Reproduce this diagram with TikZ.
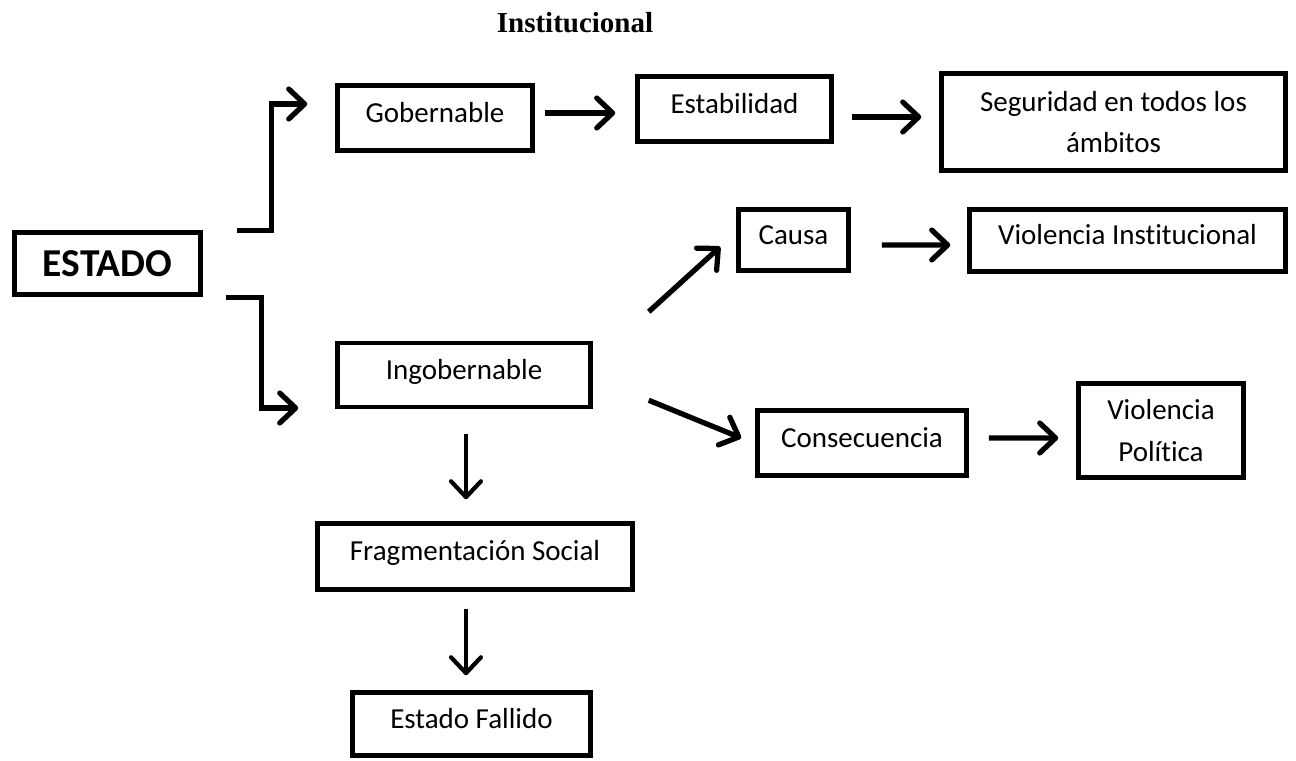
\documentclass[tikz,border=0pt]{standalone}
\usepackage{fontspec}
\setmainfont{Carlito}[Ligatures=NoCommon]
\newfontfamily\titlefont{Liberation Serif}
\usepackage{tikz}
\usetikzlibrary{calc,arrows.meta}

\begin{document}
\begin{tikzpicture}[x=0.02cm, y=-0.02cm,
    box/.style={draw, line width=2.6pt, inner sep=0pt, align=center,
        font=\fontsize{16.5}{23.5}\selectfont},
    onebox/.style={box, text height=11pt, text depth=6pt},
    arrow/.style={line width=3pt, -{Straight Barb[length=9pt,width=17pt,round]}},
    thinarrow/.style={arrow, line width=2.4pt}]
    \useasboundingbox (0,0) rectangle (1296,761);
    \node[font=\titlefont\bfseries\fontsize{16.5}{20}\selectfont, anchor=base] (titulo) at (575,32) {Institucional};
    % left column
    \node[box, minimum width=3.72cm, minimum height=1.24cm, font=\bfseries\fontsize{22.5}{26}\selectfont] (estado) at (107.5,263.5) {ESTADO};
    \node[onebox, minimum width=3.9cm, minimum height=1.3cm] (gob) at (435,118) {Gobernable};
    \node[onebox, minimum width=5.06cm, minimum height=1.28cm] (ingob) at (464,375) {Ingobernable};
    \node[onebox, minimum width=6.3cm, minimum height=1.32cm] (frag) at (475,556.5) {Fragmentación Social};
    \node[onebox, minimum width=4.76cm, minimum height=1.26cm] (fallido) at (471.5,724) {Estado Fallido};
    % right part
    \node[onebox, minimum width=3.88cm, minimum height=1.3cm] (estab) at (734.5,109) {Estabilidad};
    \node[box, minimum width=6.88cm, minimum height=1.94cm] (segur) at (1113.5,122) {Seguridad en todos los\\ámbitos};
    \node[onebox, minimum width=2.2cm, minimum height=1.22cm] (causa) at (793.5,240) {Causa};
    \node[onebox, minimum width=6.32cm, minimum height=1.24cm] (violi) at (1127.5,240.5) {Violencia Institucional};
    \node[onebox, minimum width=4.18cm, minimum height=1.3cm] (consec) at (862,443) {Consecuencia};
    \node[box, minimum width=3.3cm, minimum height=1.88cm] (violp) at (1161,430.5) {Violencia\\Política};
    % connectors
    \draw[arrow] ($(estado.north east)+(34,0)$) -| ($(gob.west)+(-64,-14)$) -- ($(gob.west)+(-28,-14)$);
    \draw[arrow] ($(estado.south east)+(23,1)$) -| ($(ingob.west)+(-74,33)$) -- ($(ingob.west)+(-37,33)$);
    \draw[arrow] ($(gob.east)+(10,-5)$) -- ($(estab.west)+(-20,4)$);
    \draw[arrow] ($(estab.east)+(18,8)$) -- ($(segur.west)+(-18,-5)$);
    \draw[arrow] ($(ingob.north east)+(56,-29)$) -- ($(causa.south west)+(-16,-26)$);
    \draw[arrow] ($(causa.east)+(31,5)$) -- ($(violi.west)+(-17,4.5)$);
    \draw[arrow] ($(ingob.south east)+(56,-9)$) -- ($(consec.west)+(-14,-5)$);
    \draw[arrow] ($(consec.east)+(20,-5)$) -- ($(violp.west)+(-18,7.5)$);
    \draw[thinarrow] ($(ingob.south)+(2,25)$) -- ($(frag.north)+(-9,-22)$);
    \draw[thinarrow] ($(frag.south)+(-9,17.5)$) -- ($(fallido.north)+(-5.5,-15)$);
\end{tikzpicture}
\end{document}
